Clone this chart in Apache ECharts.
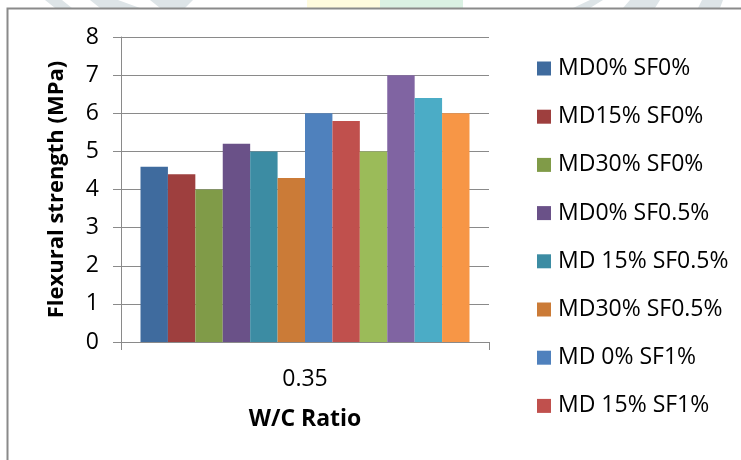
<!DOCTYPE html>
<html>
<head>
<meta charset="utf-8">
<script src="https://cdn.jsdelivr.net/npm/echarts@6/dist/echarts.min.js"></script>
<style>
  html, body { margin: 0; padding: 0; background: #ffffff; }
  #chart { width: 741px; height: 460px; }
</style>
</head>
<body>
<div id="chart"></div>
<script>
// Flexural strength of mixes at W/C = 0.35
const categories = ['0.35'];
const seriesNames = [
  'MD0% SF0%', 'MD15% SF0%', 'MD30% SF0%',
  'MD0% SF0.5%', 'MD 15% SF0.5%', 'MD30% SF0.5%',
  'MD 0% SF1%', 'MD 15% SF1%', 'MD 30% SF1%',
  'MD 0% SF1.5%', 'MD 15% SF1.5%', 'MD 30% SF1.5%'
];
const strengthValues = [4.6, 4.4, 4.0, 5.2, 5.0, 4.3, 6.0, 5.8, 5.0, 7.0, 6.4, 6.0];
const legendShown = seriesNames.slice(0, 8);
const yTicks = [0, 1, 2, 3, 4, 5, 6, 7, 8];

const palette = [
  '#3F6B9E', '#9E3F3E', '#809B48', '#6A5188', '#3C8CA3', '#CB7B37',
  '#4F81BD', '#C0504D', '#9BBB59', '#8064A2', '#4BACC6', '#F79646'
];
const lineGray = '#8A8A8A';
const fontFamily = '"Open Sans", "Noto Sans", sans-serif';

const chart = echarts.init(document.getElementById('chart'), null, { renderer: 'canvas' });

const series = seriesNames.map((name, i) => ({
  name: name,
  type: 'bar',
  data: [strengthValues[i]],
  barGap: '0%',
  barCategoryGap: '10.6%',
  itemStyle: { color: palette[i] },
  emphasis: { disabled: true }
}));

// faint page watermark above the frame
const wm = (pts, color) => ({
  type: 'polygon', z: -10, silent: true,
  shape: { points: pts },
  style: { fill: color }
});

chart.setOption({
  animation: false,
  backgroundColor: '#ffffff',
  color: palette,
  textStyle: { fontFamily: fontFamily },
  graphic: [
    wm([[45, 0], [62, 0], [72, 8], [55, 8]], '#DDE4E7'),
    wm([[90, 0], [118, 0], [140, 8], [100, 8]], '#DDE4E7'),
    wm([[150, 0], [193, 0], [185, 8], [160, 8]], '#DDE4E7'),
    wm([[307, 0], [380, 0], [380, 8], [307, 8]], '#FFFBDD'),
    wm([[380, 0], [463, 0], [463, 8], [380, 8]], '#DAF1E3'),
    wm([[573, 8], [590, 0], [603, 0], [590, 8]], '#DDE4E7'),
    wm([[623, 8], [630, 0], [660, 0], [655, 8]], '#DDE4E7'),
    wm([[698, 8], [702, 0], [723, 0], [720, 8]], '#DDE4E7'),
    {
      type: 'rect', z: -5, silent: true,
      shape: { x: 7.5, y: 8.5, width: 800, height: 500 },
      style: { fill: '#ffffff', stroke: lineGray, lineWidth: 2 }
    }
  ],
  grid: { left: 121, top: 37, width: 368, height: 305, containLabel: false },
  legend: {
    data: legendShown,
    orient: 'vertical',
    left: 532,
    top: 52,
    itemWidth: 14,
    itemHeight: 14,
    itemGap: 25.2,
    icon: 'rect',
    selectedMode: false,
    textStyle: { fontSize: 23, color: '#000000', fontFamily: fontFamily, padding: [0, 0, 0, 2] }
  },
  xAxis: {
    type: 'category',
    data: categories,
    name: 'W/C Ratio',
    nameLocation: 'middle',
    nameGap: 66,
    nameTextStyle: { fontSize: 23, fontWeight: 'bold', color: '#000000', fontFamily: fontFamily },
    axisLine: { show: true, lineStyle: { color: lineGray, width: 1 } },
    axisTick: { show: true, alignWithLabel: false, length: 8, lineStyle: { color: lineGray } },
    axisLabel: { fontSize: 23, color: '#000000', margin: 26, fontFamily: fontFamily },
    splitLine: { show: false }
  },
  yAxis: {
    type: 'value',
    min: yTicks[0],
    max: yTicks[yTicks.length - 1],
    interval: 1,
    name: 'Flexural strength (MPa)',
    nameLocation: 'middle',
    nameGap: 53,
    nameRotate: 90,
    nameTextStyle: { fontSize: 22, fontWeight: 'bold', color: '#000000', fontFamily: fontFamily },
    axisLine: { show: true, lineStyle: { color: lineGray, width: 1 } },
    axisTick: { show: true, length: 8, lineStyle: { color: lineGray } },
    axisLabel: { fontSize: 23, color: '#000000', margin: 22, fontFamily: fontFamily },
    splitLine: { show: true, lineStyle: { color: lineGray, width: 1 } }
  },
  series: series
});
</script>
</body>
</html>
